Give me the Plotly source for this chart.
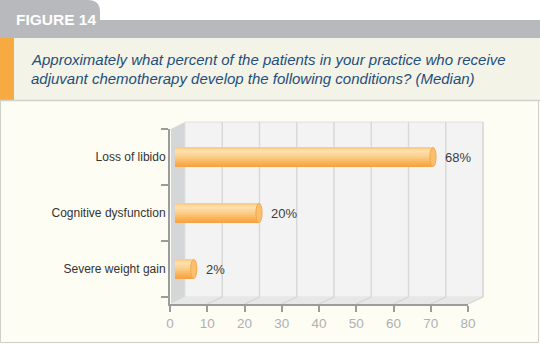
import plotly.graph_objects as go

# ---------------- data ----------------
CATEGORIES = ["Loss of libido", "Cognitive dysfunction", "Severe weight gain"]
VALUES = [68, 20, 2]
X_TICKS = [0, 10, 20, 30, 40, 50, 60, 70, 80]
TITLE_LINES = [
    "Approximately what percent of the patients in your practice who receive",
    "adjuvant chemotherapy develop the following conditions? (Median)",
]
FIG_LABEL = "FIGURE 14"

# ---------------- geometry / style ----------------
FW, FH = 540, 344
ML, MR, MT, MB = 170, 72, 129, 40
PW = FW - ML - MR
PH = FH - MT - MB
DX, DY = 15, 7          # 3D depth offset (px)
FONT = "Liberation Sans"

# hidden projection axis for bars (mid-depth plane of the 3D chart)
X2_RANGE = [-4.55, 77.66]
BAR_BASE = -3.17
BAR_W = 0.34
# cylinder shading, bottom band -> top band
BAND_COLORS = ["#f6a540", "#f8ac4e", "#fab55c", "#fbbf6b", "#fcc87b", "#fdd08b",
               "#fed79b", "#ffdca8", "#ffdba6", "#fdcd88"]


def xp(px):
    return (px - ML) / PW


def yp(py):
    return (FH - MB - py) / PH


def tick_px(t):
    return ML + (t - X_TICKS[0]) / (X_TICKS[-1] - X_TICKS[0]) * PW


def rect(x0, y0, x1, y1, fill, line=None, lw=0):
    return dict(type="rect", xref="paper", yref="paper", layer="below",
                x0=xp(x0), x1=xp(x1), y0=yp(y0), y1=yp(y1),
                fillcolor=fill, line=dict(color=line or fill, width=lw))


def path(points, fill=None, line=None, lw=1, close=True):
    d = "M " + " L ".join(f"{xp(a):.5f},{yp(b):.5f}" for a, b in points)
    if close:
        d += " Z"
    s = dict(type="path", xref="paper", yref="paper", layer="below", path=d,
             line=dict(color=line or "rgba(0,0,0,0)", width=lw if line else 0))
    if fill:
        s["fillcolor"] = fill
    return s


shapes = []
# header
shapes.append(rect(0, 0, FW, 20, "#ffffff"))
tab = ("M {:.5f},{:.5f} L {:.5f},{:.5f} L {:.5f},{:.5f} Q {:.5f},{:.5f} {:.5f},{:.5f} L {:.5f},{:.5f} Z"
       .format(xp(0), yp(21), xp(0), yp(0), xp(88), yp(0), xp(100), yp(0), xp(100), yp(12), xp(100), yp(21)))
shapes.append(dict(type="path", xref="paper", yref="paper", layer="below", path=tab,
                   fillcolor="#b8b9bc", line=dict(width=0)))
shapes.append(rect(0, 20, FW, 38, "#b8b9bc"))
shapes.append(rect(0, 38, FW, 100, "#f4f3e7"))
shapes.append(rect(0, 38, 14, 100, "#f8aa42"))
shapes.append(dict(type="line", xref="paper", yref="paper", layer="below",
                   x0=xp(0), x1=xp(FW), y0=yp(100.5), y1=yp(100.5),
                   line=dict(color="#d2d2cc", width=1.5)))
# panel border
shapes.append(path([(0.5, 101), (0.5, 342.5), (538.5, 342.5), (538.5, 101)],
                   line="#cfcfca", lw=1, close=False))

# 3D frame
x0p, x1p = tick_px(X_TICKS[0]), tick_px(X_TICKS[-1])
ybot, ytop = FH - MB, MT
shapes.append(path([(x0p + 1, ytop), (x0p + DX, ytop - DY), (x0p + DX, ybot - DY), (x0p + 1, ybot)],
                   fill="#d5d6d7"))
shapes.append(rect(x0p + DX, ytop - DY, x1p + DX, ybot - DY, "#f3f3f3", "#e0e0e0", 1))
shapes.append(path([(x0p + 1, ybot), (x0p + DX, ybot - DY), (x1p + DX, ybot - DY), (x1p, ybot)],
                   fill="#e7e7e7"))
for t in X_TICKS[1:]:
    p = tick_px(t)
    shapes.append(path([(p + DX, ybot - DY), (p + DX, ytop - DY)], line="#d9d9d9", lw=1.5, close=False))
    shapes.append(path([(p, ybot), (p + DX, ybot - DY)], line="#d4d4d4", lw=1.2, close=False))

fig = go.Figure()
# invisible trace so the primary (tick) axis is rendered
fig.add_trace(go.Scatter(x=[None], y=[CATEGORIES[0]], xaxis="x", yaxis="y",
                         mode="markers", hoverinfo="skip", showlegend=False))

# bars: banded cylinder shading
n = len(BAND_COLORS)
bw = BAR_W / n
for k, col in enumerate(BAND_COLORS):
    fig.add_trace(go.Bar(
        orientation="h", y=CATEGORIES, x=[v - BAR_BASE for v in VALUES], base=BAR_BASE,
        width=bw * 1.08, offset=-BAR_W / 2 + k * bw, marker=dict(color=col, line=dict(width=0)),
        xaxis="x2", yaxis="y", hoverinfo="skip", showlegend=False))

# end caps
CAP_W = 0.85
for c, v in zip(CATEGORIES, VALUES):
    idx = len(CATEGORIES) - 1 - CATEGORIES.index(c)
    shapes.append(dict(type="circle", xref="x2", yref="y", layer="above",
                       x0=v - CAP_W, x1=v + CAP_W, y0=idx - BAR_W / 2, y1=idx + BAR_W / 2,
                       fillcolor="#fcbf6e", line=dict(color="#f6a848", width=1)))

annotations = []
for c, v in zip(CATEGORIES, VALUES):
    annotations.append(dict(x=v, y=c, xref="x2", yref="y", text=f"{v}%", showarrow=False,
                            xanchor="left", yanchor="middle", xshift=10,
                            font=dict(family=FONT, size=13, color="#3c3c3c")))

annotations.append(dict(x=xp(14), y=yp(19.5), xref="paper", yref="paper", text=f"<b>{FIG_LABEL}</b>",
                        showarrow=False, xanchor="left", yanchor="middle",
                        font=dict(family=FONT, size=15.5, color="#ffffff")))
for i, line in enumerate(TITLE_LINES):
    annotations.append(dict(x=xp(29), y=yp(60 + 19 * i), xref="paper", yref="paper",
                            text=f"<i>{line}</i>", showarrow=False, xanchor="left", yanchor="middle",
                            font=dict(family=FONT, size=15, color="#1f4e7c")))

fig.update_layout(
    width=FW, height=FH, autosize=False,
    margin=dict(l=ML, r=MR, t=MT, b=MB, pad=0),
    paper_bgcolor="#fdfdf4", plot_bgcolor="rgba(0,0,0,0)",
    barmode="overlay", bargap=0,
    shapes=shapes, annotations=annotations,
    xaxis=dict(range=[X_TICKS[0], X_TICKS[-1]], tickvals=X_TICKS, showgrid=False, zeroline=False,
               showline=True, linecolor="#9c9c9c", linewidth=2, ticks="outside", ticklen=6,
               tickwidth=2, tickcolor="#9c9c9c",
               tickfont=dict(family=FONT, size=13.5, color="#b0b0b0"), fixedrange=True),
    xaxis2=dict(range=X2_RANGE, overlaying="x", anchor="y", visible=False, fixedrange=True),
    yaxis=dict(type="category", categoryorder="array", categoryarray=CATEGORIES[::-1],
               range=[-0.625, 2.5], showgrid=False, zeroline=False,
               showline=True, linecolor="#9c9c9c", linewidth=2, ticks="outside", ticklen=7,
               tickwidth=2, tickcolor="#9c9c9c", tickson="boundaries",
               tickfont=dict(family=FONT, size=12, color="#333333"), fixedrange=True),
)

fig.write_html("out.html")
